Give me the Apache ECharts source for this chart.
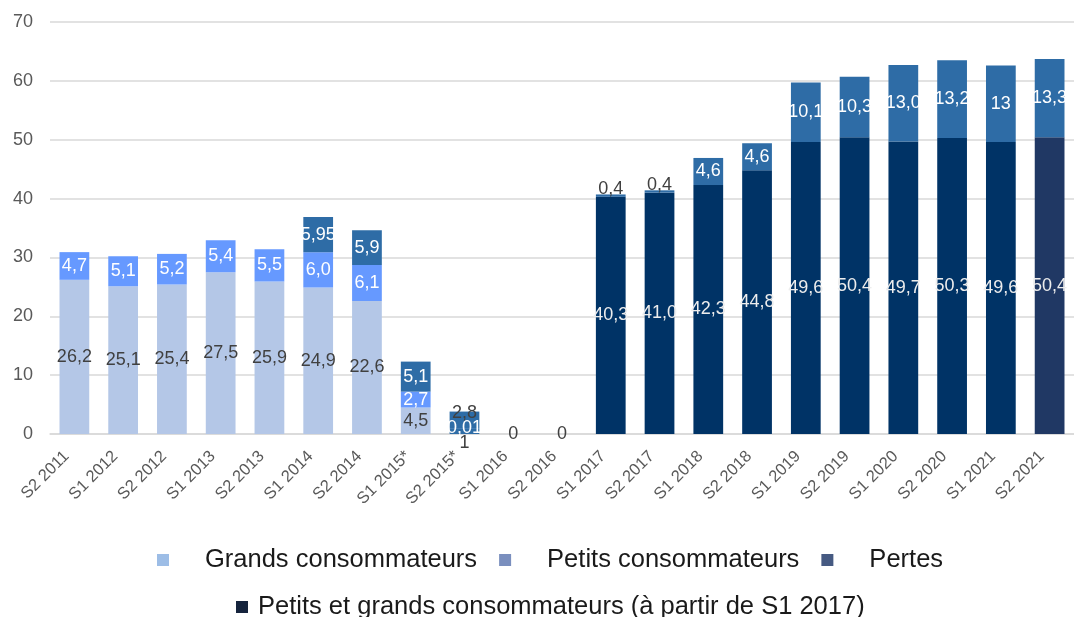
<!DOCTYPE html>
<html><head><meta charset="utf-8">
<script src="https://cdn.jsdelivr.net/npm/echarts@6/dist/echarts.min.js"></script>
<style>html,body{margin:0;padding:0;background:#fff}#c{width:1074px;height:617px}</style>
</head><body><div id="c"></div>
<script>
const categories = ['S2 2011','S1 2012','S2 2012','S1 2013','S2 2013','S1 2014','S2 2014','S1 2015*','S2 2015*','S1 2016','S2 2016','S1 2017','S2 2017','S1 2018','S2 2018','S1 2019','S2 2019','S1 2020','S2 2020','S1 2021','S2 2021'];
const grands = ['26.2','25.1','25.4','27.5','25.9','24.9','22.6','4.5','1','0','0',null,null,null,null,null,null,null,null,null,null];
const petits = ['4.7','5.1','5.2','5.4','5.5','6.0','6.1','2.7','0.01',null,null,null,null,null,null,null,null,null,null,null,null];
const petitsEtGrands = [null,null,null,null,null,null,null,null,null,null,null,'40.3','41.0','42.3','44.8','49.6','50.4','49.7','50.3','49.6','50.4'];
const pertes = [null,null,null,null,null,'5.95','5.9','5.1','2.8',null,null,'0.4','0.4','4.6','4.6','10.1','10.3','13.0','13.2','13','13.3'];
const yMin = 0, yMax = 70, yStep = 10;

const FONT = "'Liberation Sans', Arial, sans-serif";
const C = {
  grands: '#B4C7E7', petits: '#6699FF', pertes: '#2E6CA6', navy: '#003366', navyLast: '#203864',
  lgGrands: '#9DBDE6', lgPetits: '#7A8FBE', lgPertes: '#465A82', lgNavy: '#16243D'
};
const fmt = p => (p.value == null ? '' : String(p.value).replace('.', ','));

function build(arr, kind) {
  return arr.map((v, i) => {
    if (v == null) return null;
    const o = { value: v };
    const n = parseFloat(v);
    const cat = categories[i];
    if (kind === 'grands' && cat === 'S2 2015*') {
      o.itemStyle = { color: C.pertes };
      o.label = { position: 'bottom', distance: 0, color: '#404040' };
    }
    if (kind === 'pertes' && n < 3) {
      o.label = { position: 'top', distance: n < 1 ? -4 : -10, color: '#404040' };
    }
    if (kind === 'navy' && cat === 'S2 2021') {
      o.itemStyle = { color: C.navyLast };
    }
    return o;
  });
}

const labelBase = { show: true, fontFamily: FONT, fontSize: 18, formatter: fmt, position: 'inside' };
const barW = '61%';

const option = {
  animation: false,
  backgroundColor: '#fff',
  grid: { left: 50, top: 22, width: 1033, height: 412, containLabel: false },
  xAxis: {
    type: 'category', data: categories,
    axisTick: { show: false },
    axisLine: { lineStyle: { color: '#D9D9D9', width: 1.5 } },
    axisLabel: { interval: 0, rotate: 45, margin: 12, padding: [0, 11, 0, 0], color: '#595959', fontSize: 16.5, fontFamily: FONT }
  },
  yAxis: {
    type: 'value', min: yMin, max: yMax, interval: yStep,
    axisLine: { show: false }, axisTick: { show: false },
    splitLine: { lineStyle: { color: '#D9D9D9', width: 1.5 } },
    axisLabel: { margin: 17, color: '#595959', fontSize: 18, fontFamily: FONT }
  },
  legend: [
    {
      left: 152, top: 542, itemWidth: 12, itemHeight: 12, itemGap: 22, icon: 'rect',
      textStyle: { fontFamily: FONT, fontSize: 25.5, color: '#1a1a1a', padding: [0, 0, 0, 31] },
      data: [
        { name: 'Grands consommateurs', itemStyle: { color: C.lgGrands } },
        { name: 'Petits consommateurs', itemStyle: { color: C.lgPetits } },
        { name: 'Pertes', itemStyle: { color: C.lgPertes } }
      ]
    },
    {
      left: 231, top: 589, itemWidth: 12, itemHeight: 12, icon: 'rect',
      textStyle: { fontFamily: FONT, fontSize: 25.5, color: '#1a1a1a', padding: [0, 0, 0, 5] },
      data: [{ name: 'Petits et grands consommateurs (à partir de S1 2017)', itemStyle: { color: C.lgNavy } }]
    }
  ],
  series: [
    { name: 'Grands consommateurs', type: 'bar', stack: 's', barWidth: barW, itemStyle: { color: C.grands },
      label: Object.assign({}, labelBase, { color: '#404040' }), data: build(grands, 'grands') },
    { name: 'Petits consommateurs', type: 'bar', stack: 's', barWidth: barW, itemStyle: { color: C.petits },
      label: Object.assign({}, labelBase, { color: '#ffffff' }), data: build(petits, 'petits') },
    { name: 'Petits et grands consommateurs (à partir de S1 2017)', type: 'bar', stack: 's', barWidth: barW, itemStyle: { color: C.navy },
      label: Object.assign({}, labelBase, { color: '#EDEDED' }), data: build(petitsEtGrands, 'navy') },
    { name: 'Pertes', type: 'bar', stack: 's', barWidth: barW, itemStyle: { color: C.pertes },
      label: Object.assign({}, labelBase, { color: '#ffffff' }), data: build(pertes, 'pertes') }
  ]
};
const chart = echarts.init(document.getElementById('c'), null, { renderer: 'canvas' });
chart.setOption(option);
</script></body></html>
